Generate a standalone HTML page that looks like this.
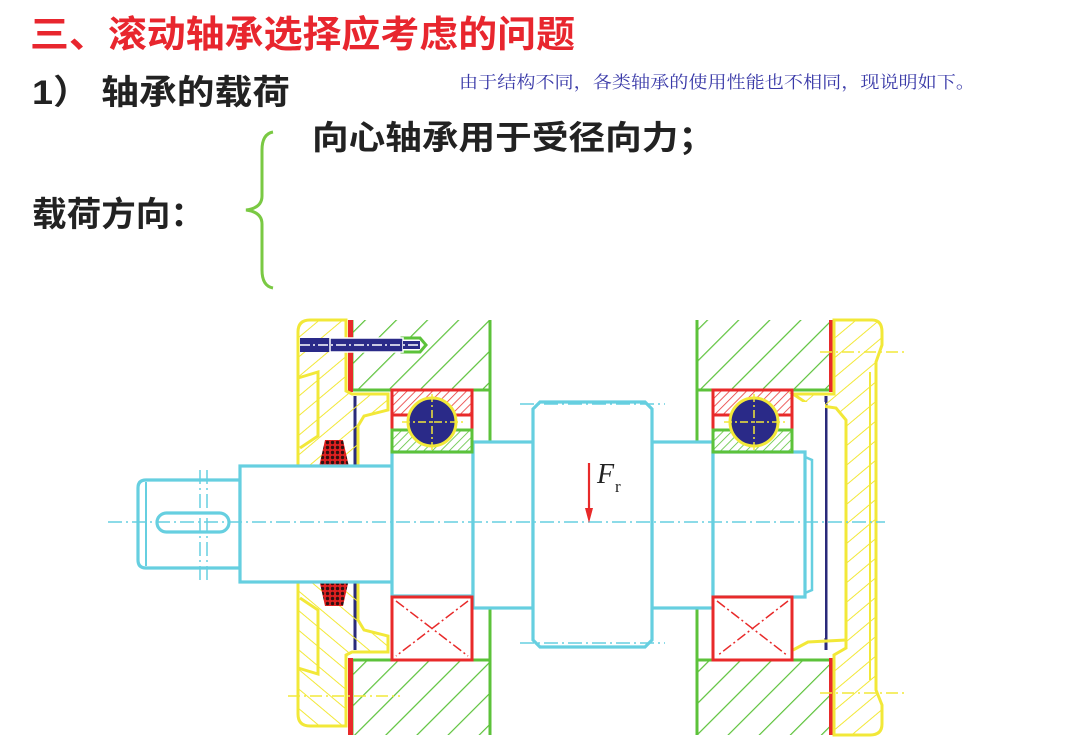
<!DOCTYPE html>
<html><head><meta charset="utf-8"><style>
html,body{margin:0;padding:0;background:#fff;width:1080px;height:748px;overflow:hidden}
svg{display:block}
.t{font-family:"Liberation Sans","Noto Sans CJK SC",sans-serif;font-weight:bold}
</style></head><body>
<svg width="1080" height="748" viewBox="0 0 1080 748" xmlns="http://www.w3.org/2000/svg">
<defs>
<pattern id="hg" patternUnits="userSpaceOnUse" width="22" height="22" patternTransform="rotate(45)"><line x1="0" y1="0" x2="0" y2="22" stroke="#5cc23a" stroke-width="2.4"/></pattern>
<pattern id="hy" patternUnits="userSpaceOnUse" width="15" height="15" patternTransform="rotate(50)"><line x1="0" y1="0" x2="0" y2="15" stroke="#f2e838" stroke-width="2"/></pattern>
<pattern id="hr" patternUnits="userSpaceOnUse" width="6" height="6" patternTransform="rotate(45)"><line x1="0" y1="0" x2="0" y2="6" stroke="#e83a3a" stroke-width="1.6"/></pattern>
<pattern id="hgs" patternUnits="userSpaceOnUse" width="6" height="6" patternTransform="rotate(45)"><line x1="0" y1="0" x2="0" y2="6" stroke="#5cc23a" stroke-width="1.6"/></pattern>
<pattern id="dots" patternUnits="userSpaceOnUse" width="5" height="5"><rect width="5" height="5" fill="#e02020"/><circle cx="2.5" cy="2.5" r="1.7" fill="#331111"/></pattern>
<g id="capL">
<path d="M298,332 Q298,320 310,320 L346,320 L346,391 L352,394 L388,394 L388,410 L364,416 L358,426 L358,466 L298,466 Z" fill="url(#hy)" stroke="#f2e838" stroke-width="3"/>
<path d="M298,378 L318,372 L318,436 L300,448" fill="none" stroke="#f2e838" stroke-width="3"/>
<path d="M319,467 L325,440 L343,440 L349,467 Z" fill="url(#dots)"/>
</g>
</defs>
<rect width="1080" height="748" fill="#fff"/>
<text class="t" x="30" y="47" font-size="37" fill="#e8262e" textLength="545" lengthAdjust="spacingAndGlyphs">三、滚动轴承选择应考虑的问题</text>
<text class="t" x="32" y="104" font-size="34" fill="#222" textLength="258" lengthAdjust="spacingAndGlyphs">1） 轴承的载荷</text>
<text x="459" y="88" font-size="17" fill="#3a3aa8" font-family="'Liberation Serif','Noto Serif CJK SC',serif" textLength="516" lengthAdjust="spacingAndGlyphs">由于结构不同，各类轴承的使用性能也不相同，现说明如下。</text>
<text class="t" x="312" y="149" font-size="33" fill="#222" textLength="403" lengthAdjust="spacingAndGlyphs">向心轴承用于受径向力；</text>
<text class="t" x="32" y="226" font-size="34" fill="#222" textLength="173" lengthAdjust="spacingAndGlyphs">载荷方向：</text>
<path d="M273,132 Q262,134 262,150 L262,196 Q262,208 246,210 Q262,212 262,224 L262,270 Q262,286 273,288" fill="none" stroke="#7ac943" stroke-width="3"/>

<g stroke="#5cc23a" stroke-width="3">
<rect x="352" y="320" width="138" height="70" fill="url(#hg)" stroke="none"/>
<rect x="352" y="660" width="138" height="75" fill="url(#hg)" stroke="none"/>
<rect x="697" y="320" width="135" height="70" fill="url(#hg)" stroke="none"/>
<rect x="697" y="660" width="135" height="75" fill="url(#hg)" stroke="none"/>
<polyline points="352,320 352,390 490,390" fill="none"/>
<line x1="490" y1="320" x2="490" y2="442"/>
<polyline points="352,735 352,660 490,660" fill="none"/>
<line x1="490" y1="608" x2="490" y2="735"/>
<polyline points="832,320 832,390 697,390" fill="none"/>
<line x1="697" y1="320" x2="697" y2="442"/>
<polyline points="832,735 832,660 697,660" fill="none"/>
<line x1="697" y1="608" x2="697" y2="735"/>
</g>
<g fill="#e82a2a">
<rect x="348" y="320" width="5" height="72"/><rect x="348" y="658" width="5" height="77"/>
<rect x="829" y="320" width="5" height="72"/><rect x="829" y="658" width="5" height="77"/>
</g>
<g stroke="#2a2a7a" stroke-width="3">
<line x1="355" y1="396" x2="355" y2="466"/><line x1="355" y1="580" x2="355" y2="650"/>
<line x1="826" y1="396" x2="826" y2="650"/>
</g>
<use href="#capL"/>
<use href="#capL" transform="translate(0,1046) scale(1,-1)"/>
<path d="M834,320 L872,320 Q882,320 882,332 L882,345 L876,362 L876,690 L882,705 L882,724 Q882,735 870,735 L834,735 L834,655 L846,648 L846,420 L836,408 L808,404 L793,394 L834,394 Z" fill="url(#hy)" stroke="#f2e838" stroke-width="3"/>
<path d="M793,650 L808,642 L846,640" fill="none" stroke="#f2e838" stroke-width="3"/>
<rect x="793" y="402" width="32" height="236" fill="#fff"/>
<line x1="870" y1="372" x2="870" y2="680" stroke="#f2e838" stroke-width="2"/>
<line x1="820" y1="352" x2="905" y2="352" stroke="#f2e838" stroke-width="1.5" stroke-dasharray="12,4,2,4"/>
<line x1="820" y1="693" x2="905" y2="693" stroke="#f2e838" stroke-width="1.5" stroke-dasharray="12,4,2,4"/>
<line x1="288" y1="696" x2="400" y2="696" stroke="#f2e838" stroke-width="1.5" stroke-dasharray="12,4,2,4"/>

<g fill="#fff" stroke="#66cfe0" stroke-width="3.2">
<path d="M146,480 L240,480 L240,568 L146,568 Q138,568 138,560 L138,488 Q138,480 146,480 Z"/>
<line x1="146" y1="482" x2="146" y2="566" stroke-width="2"/>
<rect x="157" y="513" width="72" height="19" rx="9.5"/>
<rect x="240" y="466" width="152" height="116"/>
<rect x="392" y="452" width="81" height="144"/>
<rect x="473" y="442" width="60" height="166"/>
<rect x="652" y="442" width="61" height="166"/>
<path d="M713,452 L805,452 L805,597 L713,597 Z"/>
<path d="M805,457 L812,460 L812,590 L805,593" fill="none" stroke-width="2.5"/>
<path d="M540,402 L645,402 L652,409 L652,640 L645,647 L540,647 L533,640 L533,409 Z"/>
</g>
<g stroke="#66cfe0" stroke-width="1.5" stroke-dasharray="14,4,2,4" fill="none">
<line x1="108" y1="522" x2="885" y2="522"/>
<line x1="200" y1="470" x2="200" y2="582"/><line x1="207" y1="470" x2="207" y2="582"/>
<line x1="520" y1="404" x2="665" y2="404"/><line x1="520" y1="643" x2="665" y2="643"/>
</g>

<g>
<rect x="392" y="390" width="80" height="25" fill="url(#hr)" stroke="#e82a2a" stroke-width="3"/>
<rect x="392" y="415" width="80" height="15" fill="#fff" stroke="#e82a2a" stroke-width="3"/>
<rect x="392" y="430" width="80" height="22" fill="url(#hgs)" stroke="#5cc23a" stroke-width="3"/>
<circle cx="432" cy="422" r="24" fill="#2a2a88" stroke="#f2e838" stroke-width="3"/>
<line x1="402" y1="422" x2="466" y2="422" stroke="#f2e838" stroke-width="1.5" stroke-dasharray="8,3,2,3"/>
<line x1="432" y1="394" x2="432" y2="450" stroke="#f2e838" stroke-width="1.5" stroke-dasharray="8,3,2,3"/>
<rect x="713" y="390" width="79" height="25" fill="url(#hr)" stroke="#e82a2a" stroke-width="3"/>
<rect x="713" y="415" width="79" height="15" fill="#fff" stroke="#e82a2a" stroke-width="3"/>
<rect x="713" y="430" width="79" height="22" fill="url(#hgs)" stroke="#5cc23a" stroke-width="3"/>
<circle cx="754" cy="422" r="24" fill="#2a2a88" stroke="#f2e838" stroke-width="3"/>
<line x1="724" y1="422" x2="786" y2="422" stroke="#f2e838" stroke-width="1.5" stroke-dasharray="8,3,2,3"/>
<line x1="754" y1="394" x2="754" y2="450" stroke="#f2e838" stroke-width="1.5" stroke-dasharray="8,3,2,3"/>
</g>
<g stroke="#e82a2a">
<rect x="392" y="597" width="80" height="63" fill="#fff" stroke-width="3"/>
<line x1="396" y1="601" x2="468" y2="656" stroke-width="1.5" stroke-dasharray="10,3,2,3"/>
<line x1="468" y1="601" x2="396" y2="656" stroke-width="1.5" stroke-dasharray="10,3,2,3"/>
<rect x="713" y="597" width="79" height="63" fill="#fff" stroke-width="3"/>
<line x1="717" y1="601" x2="788" y2="656" stroke-width="1.5" stroke-dasharray="10,3,2,3"/>
<line x1="788" y1="601" x2="717" y2="656" stroke-width="1.5" stroke-dasharray="10,3,2,3"/>
</g>

<path d="M402,338 L420,338 L426,345 L420,352 L402,352 Z" fill="#fff" stroke="#5cc23a" stroke-width="3"/>
<rect x="300" y="338" width="30" height="14" fill="#2a2a88"/>
<rect x="330" y="338" width="73" height="14" fill="#2a2a88" stroke="#fff" stroke-width="1.5"/>
<rect x="403" y="341" width="17" height="8" fill="#2a2a88"/>
<line x1="300" y1="345" x2="420" y2="345" stroke="#fff" stroke-width="1.5" stroke-dasharray="10,3,2,3"/>

<line x1="589" y1="463" x2="589" y2="512" stroke="#e82a2a" stroke-width="2.2"/>
<path d="M585,508 L589,523 L593,508 Z" fill="#e82a2a"/>
<text x="597" y="483" font-family="'Liberation Serif',serif" font-style="italic" font-size="28" fill="#222">F</text>
<text x="615" y="492" font-family="'Liberation Serif',serif" font-size="17" fill="#222">r</text>
</svg>
</body></html>
